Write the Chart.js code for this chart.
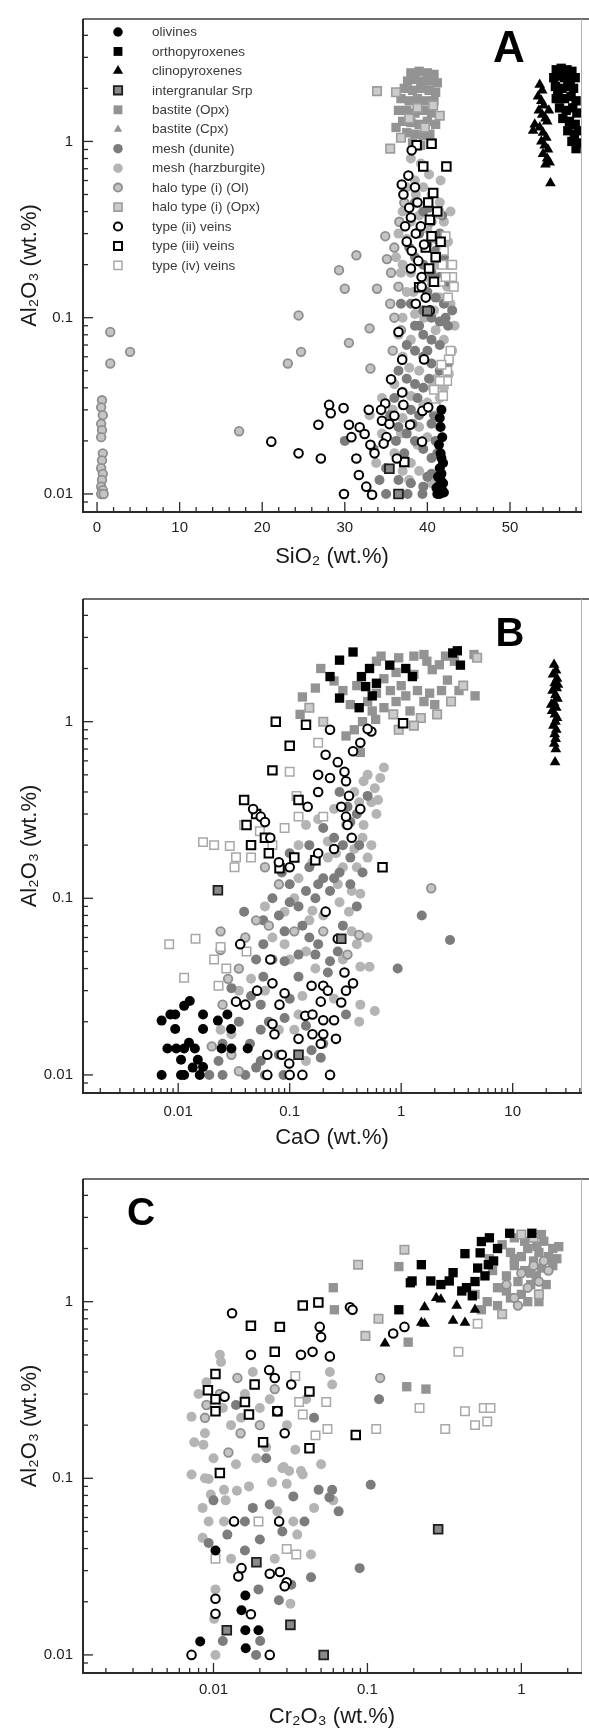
<!DOCTYPE html>
<html><head><meta charset="utf-8">
<script src="https://cdn.jsdelivr.net/npm/chart.js@4.4.1/dist/chart.umd.min.js"></script>
<style>
html,body{margin:0;padding:0;background:#fff;}
#wrap{position:relative;width:589px;height:1735px;overflow:hidden;}
canvas{position:absolute;left:0;}
</style></head><body>
<div id="wrap">
<canvas id="cA" width="589" height="580" style="top:0px;width:589px;height:580px"></canvas>
<canvas id="cB" width="589" height="580" style="top:580px;width:589px;height:580px"></canvas>
<canvas id="cC" width="589" height="575" style="top:1160px;width:589px;height:575px"></canvas>
</div>
<script>
// ---------------- series names (legend order) ----------------
const LABELS = ['olivines','orthopyroxenes','clinopyroxenes','intergranular Srp','bastite (Opx)','bastite (Cpx)','mesh (dunite)','mesh (harzburgite)','halo type (i) (Ol)','halo type (i) (Opx)','type (ii) veins','type (iii) veins','type (iv) veins'];

// ---------------- tick labels ----------------
const Y_TICKS = [0.01, 0.1, 1];
const A_X_TICKS = [0, 10, 20, 30, 40, 50];
const B_X_TICKS = [0.01, 0.1, 1, 10];
const C_X_TICKS = [0.01, 0.1, 1];
const PANEL_LETTERS = ['A', 'B', 'C'];
const X_TITLES = ['SiO\u2082 (wt.%)', 'CaO (wt.%)', 'Cr\u2082O\u2083 (wt.%)'];
const Y_TITLE = 'Al\u2082O\u2083 (wt.%)';

// ================= PANEL A : SiO2 vs Al2O3 =================
const A_olivines = [[41.5,0.010],[41.2,0.010],[41.8,0.0105],[41.4,0.011],[41.9,0.0115],[41.6,0.012],[41.3,0.0125],[41.7,0.013],[41.5,0.014],[41.9,0.015],[41.6,0.017],[41.4,0.019],[41.8,0.021],[41.6,0.024],[41.5,0.027],[41.7,0.030],[41.3,0.011],[42.0,0.0102],[41.1,0.0108],[41.7,0.016]];
const A_opx = [[55.6,2.55],[56.2,2.6],[56.9,2.55],[57.5,2.5],[55.3,2.3],[56.0,2.35],[56.6,2.3],[57.3,2.25],[57.9,2.3],[55.5,2.05],[56.3,2.0],[57.0,2.05],[57.7,2.0],[55.8,1.8],[56.6,1.75],[57.4,1.8],[58.0,1.7],[56.0,1.55],[56.8,1.5],[57.6,1.55],[58.1,1.45],[56.4,1.35],[57.2,1.3],[57.9,1.25],[57.0,1.15],[57.8,1.1],[58.3,1.15],[57.5,1.0],[58.2,0.98],[58.0,0.91],[55.6,1.75],[55.8,1.9]];
const A_cpx = [[53.6,2.1],[53.9,1.95],[53.4,1.8],[53.8,1.7],[54.1,1.6],[53.5,1.5],[53.9,1.42],[54.3,1.35],[53.0,1.25],[52.8,1.15],[53.6,1.2],[54.0,1.12],[54.4,1.05],[53.8,1.0],[54.2,0.95],[54.6,0.9],[54.0,0.85],[54.5,0.8],[54.8,0.76],[54.3,0.74],[54.9,0.58],[54.5,1.3],[54.7,1.5]];
const A_intergranular = [[40.0,0.109],[35.4,0.0139],[36.5,0.010]];
const A_bastiteOpx = [[38.0,2.45],[39.0,2.5],[40.0,2.45],[40.8,2.4],[37.6,2.2],[38.5,2.25],[39.5,2.2],[40.5,2.2],[41.2,2.15],[37.2,2.0],[38.2,1.95],[39.2,2.0],[40.2,1.95],[41.0,1.9],[36.8,1.75],[37.8,1.7],[38.8,1.75],[39.8,1.7],[40.8,1.7],[36.5,1.5],[37.5,1.5],[38.5,1.45],[39.5,1.5],[40.5,1.45],[37.0,1.3],[38.0,1.28],[39.0,1.25],[40.0,1.3],[41.0,1.25],[37.5,1.12],[38.5,1.1],[39.5,1.08],[40.3,1.1],[36.2,1.2],[38.2,0.98],[39.2,0.95],[40.6,0.98]];
const A_bastiteCpx = [];
const A_meshDunite = [[38.5,0.45],[39.5,0.4],[40.5,0.35],[41.5,0.3],[39.0,0.3],[40.0,0.26],[41.0,0.24],[42.0,0.22],[38.5,0.22],[39.5,0.2],[40.5,0.18],[41.5,0.17],[42.5,0.16],[39.0,0.15],[40.0,0.14],[41.0,0.13],[42.0,0.12],[38.0,0.12],[39.5,0.11],[40.5,0.1],[41.5,0.095],[42.5,0.09],[38.5,0.09],[39.5,0.08],[40.5,0.075],[41.5,0.07],[37.5,0.07],[38.5,0.065],[39.5,0.06],[40.5,0.055],[36.5,0.05],[37.5,0.045],[38.5,0.042],[39.5,0.04],[36.0,0.035],[37.0,0.032],[38.0,0.03],[39.0,0.028],[40.5,0.025],[35.5,0.028],[36.5,0.024],[37.5,0.022],[38.5,0.02],[39.5,0.018],[40.5,0.016],[30.0,0.02],[33.5,0.018],[35.0,0.014],[36.5,0.012],[38.0,0.0115],[39.5,0.011],[40.5,0.013],[41.0,0.02],[41.2,0.017],[40.8,0.028],[35.0,0.010],[39.4,0.010],[37.8,0.25],[40.2,0.42],[41.8,0.38],[42.6,0.2],[36.8,0.12],[39.0,0.09],[42.2,0.1],[43.0,0.11],[40.0,0.065],[42.5,0.055],[37.0,0.038],[41.5,0.05],[38.8,0.035],[40.2,0.045],[36.2,0.02],[38.2,0.025],[37.2,0.017],[34.2,0.012],[37.6,0.010],[40.0,0.0125]];
const A_meshHarz = [[37.5,0.55],[38.5,0.6],[39.5,0.55],[40.5,0.5],[41.5,0.45],[37.0,0.4],[38.0,0.35],[40.0,0.32],[42.0,0.35],[37.5,0.28],[41.0,0.28],[42.5,0.27],[37.0,0.2],[38.0,0.18],[41.0,0.2],[43.0,0.2],[37.5,0.14],[41.5,0.13],[42.8,0.12],[37.0,0.1],[38.5,0.105],[41.0,0.085],[42.0,0.075],[43.0,0.065],[36.5,0.08],[38.0,0.075],[37.0,0.06],[39.0,0.05],[41.0,0.045],[42.0,0.04],[36.0,0.042],[38.0,0.036],[40.0,0.033],[41.5,0.035],[37.0,0.027],[39.0,0.024],[40.0,0.021],[41.5,0.024],[34.5,0.022],[36.0,0.017],[38.0,0.015],[37.0,0.0135],[39.0,0.0135],[40.5,0.0115],[33.0,0.028],[34.5,0.035],[36.8,0.18],[39.0,0.38],[40.2,0.65],[38.0,0.8],[39.2,0.75],[36.5,0.3],[38.6,0.5],[41.6,0.6],[42.8,0.4],[36.2,0.22],[42.4,0.15],[39.8,0.17],[38.3,0.14],[40.8,0.11],[43.3,0.09],[39.6,0.1],[37.8,0.052],[40.6,0.04],[42.6,0.048],[39.5,0.032],[36.8,0.022],[38.8,0.019],[35.8,0.03],[33.8,0.015],[37.8,0.012]];
const A_haloOl = [[0.6,0.034],[0.5,0.031],[0.7,0.028],[0.5,0.025],[0.6,0.023],[0.5,0.021],[0.7,0.017],[0.6,0.0155],[0.5,0.014],[0.7,0.013],[0.6,0.012],[0.5,0.011],[0.7,0.0105],[0.5,0.010],[0.8,0.010],[1.6,0.083],[1.6,0.055],[4.0,0.064],[17.2,0.0227],[24.4,0.103],[24.7,0.064],[23.1,0.055],[30.5,0.072],[30.0,0.146],[33.0,0.087],[33.1,0.0515],[33.9,0.146],[31.4,0.226],[29.3,0.186],[35.1,0.215],[34.9,0.29],[35.5,0.12],[36.0,0.1],[36.8,0.085],[35.8,0.065],[36.5,0.15],[36.0,0.25],[36.6,0.35],[37.2,0.45],[35.6,0.18]];
const A_haloOpx = [[33.9,1.93],[35.5,0.91],[36.2,1.9],[38.8,1.55],[40.7,1.6],[37.8,1.35],[39.7,1.2],[41.5,1.4],[36.8,1.05]];
const A_type2 = [[28.1,0.032],[28.3,0.0287],[29.85,0.0307],[26.8,0.0247],[30.5,0.0247],[21.1,0.0198],[24.4,0.017],[27.1,0.0159],[30.8,0.021],[31.8,0.0239],[32.9,0.030],[32.4,0.0219],[33.1,0.019],[33.6,0.017],[31.4,0.0159],[31.7,0.0128],[32.6,0.011],[33.3,0.0099],[29.9,0.010],[34.5,0.026],[34.9,0.0326],[35.6,0.0447],[36.95,0.0376],[37.1,0.032],[36.0,0.0278],[35.4,0.0249],[35.05,0.021],[34.7,0.0193],[36.3,0.0159],[37.9,0.0247],[39.35,0.0198],[39.4,0.0296],[40.1,0.031],[36.95,0.0578],[36.5,0.083],[39.6,0.058],[34.4,0.030],[38.1,0.89],[36.9,0.57],[37.1,0.50],[37.7,0.64],[38.0,0.37],[37.5,0.27],[38.1,0.24],[38.6,0.30],[38.9,0.21],[39.3,0.17],[39.3,0.15],[38.5,0.55],[38.8,0.45],[37.8,0.42],[39.2,0.33],[37.3,0.33],[39.6,0.26],[38.0,0.19],[39.8,0.13],[38.6,0.12],[40.3,0.11]];
const A_type3 = [[38.7,0.95],[40.5,0.97],[39.5,0.72],[42.3,0.72],[40.7,0.51],[40.1,0.45],[40.3,0.36],[40.5,0.29],[41.0,0.22],[40.2,0.19],[40.8,0.16],[39.8,0.25],[41.2,0.4],[39.0,0.149],[37.2,0.0152],[41.6,0.27]];
const A_type4 = [[41.4,0.39],[42.2,0.29],[42.0,0.24],[43.0,0.2],[41.8,0.2],[43.0,0.17],[41.6,0.16],[40.6,0.16],[42.2,0.17],[42.6,0.058],[42.4,0.0437],[41.5,0.0437],[41.9,0.036],[40.8,0.039],[42.4,0.05],[41.7,0.054],[41.0,0.031],[42.8,0.065],[43.2,0.15],[42.5,0.13]];

// ================= PANEL B : CaO vs Al2O3 =================
const B_olivines = [[0.0071,0.0203],[0.0094,0.022],[0.0113,0.0246],[0.0127,0.0262],[0.0094,0.0182],[0.0167,0.022],[0.0167,0.0182],[0.008,0.0141],[0.0096,0.0141],[0.0113,0.0141],[0.0141,0.0141],[0.0106,0.0122],[0.015,0.0122],[0.0167,0.0111],[0.0071,0.010],[0.0106,0.010],[0.0113,0.010],[0.0156,0.010],[0.0227,0.0203],[0.0276,0.022],[0.0298,0.0182],[0.0245,0.0141],[0.030,0.0141],[0.042,0.0141],[0.0085,0.022],[0.0135,0.011],[0.0125,0.0152]];
const B_opx = [[0.28,2.23],[0.37,2.48],[3.19,2.52],[1.26,1.8],[0.44,1.8],[0.48,1.58],[0.28,1.36],[3.4,2.09],[0.79,2.09],[0.23,1.8],[0.55,1.4],[0.42,1.2],[2.9,2.45],[0.6,1.65],[1.1,2.0],[0.52,2.0]];
const B_cpx = [[23.5,2.1],[24.5,1.95],[23.0,1.85],[25.0,1.75],[23.8,1.65],[24.8,1.55],[22.8,1.5],[24.2,1.42],[25.2,1.35],[23.5,1.28],[24.6,1.2],[22.6,1.15],[23.9,1.1],[25.0,1.05],[24.2,1.0],[23.2,0.95],[24.6,0.9],[23.8,0.85],[24.3,0.8],[23.6,0.75],[24.4,0.7],[24.0,0.59],[22.2,1.25],[25.5,1.62]];
const B_intergranular = [[0.0227,0.111],[0.12,0.013],[0.29,0.059]];
const B_bastiteOpx = [[0.13,1.38],[0.124,1.1],[0.19,2.0],[0.66,2.35],[1.6,2.4],[4.6,1.4],[3.3,1.5],[2.6,1.72],[1.9,1.97],[3.0,2.2],[4.5,2.4],[0.32,0.83],[0.43,0.67],[0.59,1.03],[0.3,1.5],[0.35,1.25],[0.4,1.6],[0.5,1.3],[0.6,1.45],[0.7,1.2],[0.8,1.5],[0.9,1.3],[1.0,1.6],[1.1,1.4],[1.2,1.15],[1.4,1.5],[1.6,1.3],[1.8,1.45],[2.0,1.25],[2.3,1.5],[1.3,1.85],[0.9,1.9],[0.7,1.75],[0.25,1.7],[0.17,1.55],[0.55,1.15],[0.45,1.0],[0.38,0.9],[2.2,2.1],[1.7,2.2],[0.6,2.2],[0.95,2.3],[1.3,2.35],[2.5,2.35]];
const B_bastiteCpx = [];
const B_meshDunite = [[1.53,0.08],[2.74,0.058],[0.93,0.04],[0.039,0.084],[0.058,0.075],[0.12,0.09],[0.17,0.1],[0.23,0.11],[0.058,0.055],[0.09,0.044],[0.12,0.048],[0.18,0.055],[0.23,0.044],[0.12,0.036],[0.058,0.036],[0.03,0.031],[0.055,0.025],[0.09,0.021],[0.055,0.018],[0.044,0.015],[0.055,0.012],[0.04,0.010],[0.023,0.012],[0.019,0.010],[0.025,0.010],[0.19,0.0125],[0.157,0.0138],[0.2,0.015],[0.06,0.010],[0.088,0.010],[0.15,0.06],[0.3,0.07],[0.25,0.13],[0.15,0.15],[0.3,0.2],[0.2,0.25],[0.4,0.3],[0.28,0.4],[0.1,0.12],[0.07,0.1],[0.35,0.12],[0.4,0.09],[0.45,0.14],[0.15,0.2],[0.09,0.065],[0.27,0.05],[0.035,0.02],[0.05,0.045],[0.025,0.015],[0.32,0.022],[0.08,0.08],[0.1,0.095],[0.14,0.11],[0.2,0.13],[0.28,0.14],[0.35,0.17],[0.25,0.22],[0.35,0.27],[0.42,0.2],[0.18,0.12],[0.13,0.07],[0.07,0.045],[0.045,0.028],[0.065,0.02],[0.1,0.027],[0.14,0.019],[0.08,0.013],[0.05,0.011],[0.17,0.048],[0.22,0.038],[0.5,0.38],[0.33,0.33],[0.1,0.18],[0.085,0.14]];
const B_meshHarz = [[0.09,0.084],[0.36,0.11],[0.43,0.106],[0.34,0.084],[0.36,0.065],[0.43,0.025],[0.58,0.023],[0.52,0.041],[0.43,0.041],[0.42,0.02],[0.46,0.46],[0.54,0.35],[0.54,0.2],[0.46,0.26],[0.5,0.17],[0.45,0.22],[0.38,0.4],[0.3,0.15],[0.22,0.17],[0.12,0.2],[0.18,0.28],[0.25,0.32],[0.14,0.26],[0.5,0.5],[0.1,0.045],[0.15,0.075],[0.2,0.08],[0.28,0.095],[0.07,0.06],[0.045,0.035],[0.13,0.028],[0.25,0.027],[0.3,0.045],[0.4,0.055],[0.17,0.04],[0.11,0.018],[0.14,0.012],[0.5,0.06],[0.6,0.3],[0.65,0.48],[0.7,0.55],[0.06,0.09],[0.12,0.13],[0.16,0.16],[0.26,0.18],[0.38,0.19],[0.32,0.26],[0.42,0.35],[0.58,0.42],[0.22,0.21],[0.11,0.1],[0.16,0.085],[0.09,0.055],[0.14,0.05],[0.035,0.03],[0.06,0.03],[0.08,0.018],[0.12,0.022],[0.03,0.017],[0.024,0.018],[0.27,0.12],[0.4,0.15],[0.62,0.36]];
const B_haloOl = [[1.86,0.114],[0.024,0.065],[0.024,0.051],[0.028,0.035],[0.035,0.04],[0.06,0.15],[0.08,0.12],[0.05,0.075],[0.04,0.06],[0.025,0.025],[0.02,0.0145],[0.03,0.013],[0.035,0.0105],[0.065,0.07],[0.11,0.065],[0.2,0.065],[0.33,0.048],[0.42,0.062]];
const B_haloOpx = [[0.15,1.2],[0.2,1.0],[0.85,1.1],[1.5,1.05],[2.1,1.1],[2.8,1.3],[3.6,1.6],[4.8,2.3],[0.95,0.9],[1.3,0.95]];
const B_type2 = [[0.23,0.9],[0.54,0.88],[0.5,0.91],[0.43,0.76],[0.37,0.68],[0.21,0.65],[0.27,0.59],[0.31,0.52],[0.18,0.5],[0.23,0.48],[0.32,0.46],[0.34,0.38],[0.29,0.33],[0.43,0.32],[0.32,0.29],[0.33,0.26],[0.36,0.22],[0.18,0.4],[0.145,0.33],[0.047,0.32],[0.055,0.29],[0.06,0.27],[0.067,0.22],[0.25,0.19],[0.18,0.18],[0.08,0.16],[0.1,0.15],[0.21,0.084],[0.067,0.045],[0.036,0.055],[0.27,0.059],[0.31,0.038],[0.37,0.033],[0.32,0.03],[0.29,0.0257],[0.07,0.033],[0.09,0.029],[0.157,0.032],[0.2,0.032],[0.22,0.03],[0.19,0.026],[0.138,0.0216],[0.16,0.022],[0.2,0.0204],[0.25,0.0204],[0.033,0.026],[0.04,0.025],[0.051,0.03],[0.081,0.025],[0.07,0.0194],[0.073,0.017],[0.12,0.016],[0.16,0.017],[0.2,0.017],[0.26,0.016],[0.19,0.015],[0.063,0.013],[0.085,0.013],[0.099,0.0116],[0.063,0.010],[0.1,0.010],[0.13,0.010],[0.23,0.010]];
const B_type3 = [[0.075,1.0],[0.14,0.96],[0.1,0.73],[0.07,0.53],[0.12,0.36],[1.04,0.98],[0.68,0.15],[0.039,0.36],[0.041,0.26],[0.17,0.164],[0.081,0.148],[0.05,0.3],[0.06,0.22],[0.045,0.2],[0.065,0.18],[0.11,0.17]];
const B_type4 = [[0.0167,0.208],[0.021,0.2],[0.029,0.198],[0.033,0.171],[0.032,0.15],[0.039,0.26],[0.054,0.24],[0.09,0.25],[0.12,0.29],[0.115,0.38],[0.1,0.52],[0.18,0.76],[0.2,0.29],[0.0083,0.055],[0.0143,0.059],[0.0113,0.0355],[0.021,0.045],[0.027,0.04],[0.041,0.05],[0.024,0.053],[0.023,0.032],[0.07,0.2],[0.045,0.17]];

// ================= PANEL C : Cr2O3 vs Al2O3 =================
const C_olivines = [[0.0103,0.039],[0.0161,0.0217],[0.0152,0.0179],[0.0161,0.0138],[0.0196,0.0138],[0.0162,0.0109],[0.0082,0.0119]];
const C_opx = [[1.17,2.44],[0.84,2.44],[0.55,2.19],[0.54,1.89],[0.43,1.87],[0.61,1.62],[0.66,1.7],[0.36,1.46],[0.258,1.31],[0.224,1.62],[0.195,1.31],[0.19,1.28],[0.16,0.9],[0.44,1.2],[0.48,1.08],[0.41,1.15],[0.5,1.3],[0.34,1.31],[0.7,2.0],[0.62,2.3],[0.52,1.55],[0.3,1.25],[0.58,1.4]];
const C_cpx = [[0.13,0.58],[0.224,0.76],[0.235,0.75],[0.36,0.78],[0.43,0.76],[0.235,0.93],[0.28,1.05],[0.3,1.03],[0.38,0.95],[0.5,0.9]];
const C_intergranular = [[0.019,0.0335],[0.0316,0.0148],[0.0122,0.0138],[0.052,0.010],[0.288,0.0515]];
const C_bastiteOpx = [[0.16,1.58],[0.06,1.2],[0.061,0.9],[0.184,0.59],[0.18,0.33],[0.24,0.32],[1.26,2.06],[0.6,1.0],[0.7,1.2],[0.8,1.4],[0.9,1.6],[1.0,1.8],[1.1,2.0],[0.75,2.1],[0.85,1.9],[0.65,1.5],[0.95,1.3],[1.05,1.5],[1.2,1.7],[1.3,1.9],[1.4,2.2],[0.9,2.3],[1.0,1.1],[1.15,1.25],[0.7,0.95],[0.8,1.15],[1.1,1.0],[1.25,1.4],[1.5,1.8],[1.6,2.0],[1.75,2.05],[0.55,0.9],[0.5,1.1],[0.62,1.75],[1.35,1.55],[0.85,1.05],[1.6,1.6],[1.3,1.0],[1.45,1.25],[1.7,1.75],[0.9,1.75],[1.15,1.45],[1.05,2.2],[1.35,2.4]];
const C_bastiteCpx = [];
const C_meshDunite = [[0.105,0.092],[0.089,0.031],[0.119,0.28],[0.0232,0.071],[0.033,0.079],[0.0482,0.086],[0.0566,0.078],[0.059,0.086],[0.016,0.057],[0.039,0.057],[0.02,0.045],[0.016,0.039],[0.043,0.0275],[0.0196,0.0235],[0.0266,0.0204],[0.0115,0.012],[0.0201,0.012],[0.0189,0.010],[0.0093,0.043],[0.0123,0.048],[0.010,0.075],[0.018,0.068],[0.028,0.05],[0.032,0.025],[0.022,0.13],[0.014,0.26],[0.045,0.22],[0.065,0.065]];
const C_meshHarz = [[0.0072,0.105],[0.0093,0.099],[0.0096,0.081],[0.0117,0.086],[0.0142,0.085],[0.019,0.13],[0.028,0.114],[0.0299,0.093],[0.038,0.105],[0.0093,0.057],[0.0117,0.057],[0.033,0.057],[0.0085,0.046],[0.043,0.037],[0.0103,0.0235],[0.0316,0.0195],[0.0101,0.016],[0.0103,0.010],[0.059,0.34],[0.057,0.4],[0.0072,0.223],[0.0088,0.18],[0.0086,0.155],[0.0151,0.22],[0.0286,0.116],[0.031,0.11],[0.037,0.11],[0.034,0.145],[0.0232,0.28],[0.0112,0.455],[0.0088,0.10],[0.008,0.3],[0.009,0.35],[0.0115,0.25],[0.013,0.2],[0.016,0.3],[0.018,0.4],[0.02,0.25],[0.022,0.15],[0.014,0.12],[0.010,0.13],[0.0075,0.16],[0.012,0.075],[0.017,0.09],[0.024,0.095],[0.026,0.065],[0.045,0.068],[0.05,0.12],[0.06,0.075],[0.035,0.048],[0.025,0.035],[0.0085,0.068],[0.013,0.035],[0.03,0.2],[0.04,0.28],[0.011,0.5]];
const C_haloOl = [[0.121,0.37],[0.0143,0.37],[0.0088,0.22],[0.011,0.3],[0.015,0.18],[0.02,0.2],[0.0125,0.14],[0.025,0.32],[0.009,0.26],[0.9,1.05],[1.1,1.2],[1.3,1.3],[1.0,1.45],[1.2,1.6],[1.4,1.7],[0.8,1.25],[0.95,0.95],[1.5,1.5]];
const C_haloOpx = [[0.174,1.97],[0.087,1.62],[0.097,0.64],[0.118,0.8],[1.0,2.4],[1.2,2.3],[0.75,0.85],[1.3,1.1]];
const C_type2 = [[0.0132,0.86],[0.049,0.72],[0.05,0.63],[0.0175,0.5],[0.037,0.5],[0.044,0.52],[0.057,0.49],[0.023,0.41],[0.025,0.37],[0.032,0.34],[0.0118,0.29],[0.026,0.24],[0.029,0.18],[0.077,0.93],[0.08,0.9],[0.147,0.66],[0.174,0.72],[0.0072,0.010],[0.0232,0.010],[0.0103,0.0208],[0.0103,0.0171],[0.0175,0.017],[0.0136,0.057],[0.0267,0.057],[0.0152,0.031],[0.0145,0.0278],[0.0232,0.0288],[0.027,0.0295],[0.0299,0.0258],[0.029,0.0245]];
const C_type3 = [[0.038,0.95],[0.048,0.99],[0.0175,0.73],[0.027,0.72],[0.025,0.52],[0.0103,0.39],[0.0092,0.315],[0.0103,0.28],[0.0103,0.24],[0.016,0.27],[0.017,0.23],[0.026,0.24],[0.0185,0.34],[0.042,0.31],[0.021,0.16],[0.042,0.148],[0.084,0.176],[0.011,0.107]];
const C_type4 = [[0.39,0.52],[0.218,0.25],[0.43,0.24],[0.57,0.25],[0.63,0.25],[0.6,0.21],[0.5,0.2],[0.32,0.19],[0.114,0.19],[0.52,0.75],[0.054,0.27],[0.055,0.19],[0.038,0.23],[0.034,0.38],[0.036,0.27],[0.046,0.175],[0.0299,0.0398],[0.0196,0.057],[0.0103,0.035],[0.0345,0.037]];

const PANEL_DATA = [
  [A_olivines,A_opx,A_cpx,A_intergranular,A_bastiteOpx,A_bastiteCpx,A_meshDunite,A_meshHarz,A_haloOl,A_haloOpx,A_type2,A_type3,A_type4],
  [B_olivines,B_opx,B_cpx,B_intergranular,B_bastiteOpx,B_bastiteCpx,B_meshDunite,B_meshHarz,B_haloOl,B_haloOpx,B_type2,B_type3,B_type4],
  [C_olivines,C_opx,C_cpx,C_intergranular,C_bastiteOpx,C_bastiteCpx,C_meshDunite,C_meshHarz,C_haloOl,C_haloOpx,C_type2,C_type3,C_type4]
];

// ---------------- marker styles ----------------
const STYLES = [
  {ps:'circle',   r:5.0, bg:'#000000', bc:'#000000', bw:0,   order:1},
  {ps:'rect',     r:6.6, bg:'#000000', bc:'#000000', bw:0,   order:1},
  {ps:'triangle', r:6.2, bg:'#000000', bc:'#000000', bw:0,   order:1},
  {ps:'rect',     r:6.2, bg:'#8a8a8a', bc:'#1e1e1e', bw:1.8, order:2},
  {ps:'rect',     r:6.6, bg:'#939393', bc:'#939393', bw:0,   order:6},
  {ps:'triangle', r:5.0, bg:'#939393', bc:'#939393', bw:0,   order:6},
  {ps:'circle',   r:5.0, bg:'#7c7c7c', bc:'#7c7c7c', bw:0,   order:6},
  {ps:'circle',   r:5.0, bg:'#b4b4b4', bc:'#b4b4b4', bw:0,   order:6},
  {ps:'circle',   r:4.3, bg:'#c4c4c4', bc:'#8e8e8e', bw:1.8, order:5},
  {ps:'rect',     r:6.0, bg:'#cbcbcb', bc:'#9c9c9c', bw:1.6, order:5},
  {ps:'circle',   r:4.3, bg:'#ffffff', bc:'#000000', bw:2,   order:2},
  {ps:'rect',     r:6.0, bg:'#ffffff', bc:'#000000', bw:2,   order:2},
  {ps:'rect',     r:6.0, bg:'#ffffff', bc:'#a8a8a8', bw:1.5, order:4}
];

const FONT = '"Liberation Sans", Arial, Helvetica, sans-serif';

function makeDatasets(panel) {
  return LABELS.map((lab, i) => {
    const s = STYLES[i];
    return {
      label: lab,
      data: PANEL_DATA[panel][i].map(p => ({x: p[0], y: p[1]})),
      pointStyle: s.ps, pointRadius: s.r, pointHoverRadius: s.r,
      backgroundColor: s.bg, borderColor: s.bc, borderWidth: s.bw,
      order: s.order, showLine: false
    };
  });
}

function logTickValues(min, max) {
  const out = [];
  for (let d = Math.floor(Math.log10(min)); d <= Math.ceil(Math.log10(max)); d++) {
    for (let m = 1; m <= 9; m++) {
      const v = m * Math.pow(10, d);
      if (v >= min && v <= max) out.push({v, major: m === 1});
    }
  }
  return out;
}

const frameTicks = {
  id: 'frameTicks',
  afterDatasetsDraw(chart, args, opts) {
    const {ctx, chartArea: a} = chart;
    const xs = chart.scales.x, ys = chart.scales.y;
    ctx.save();
    ctx.strokeStyle = '#2a2a2a';
    ctx.lineWidth = 1.3;
    const xt = opts.xLog ? logTickValues(xs.min, xs.max) : opts.xLinTicks;
    xt.forEach(t => {
      const px = xs.getPixelForValue(t.v);
      if (px < a.left + 1 || px > a.right - 1) return;
      ctx.beginPath(); ctx.moveTo(px, a.bottom); ctx.lineTo(px, a.bottom - (t.major ? 10 : 5)); ctx.stroke();
    });
    logTickValues(ys.min, ys.max).forEach(t => {
      const py = ys.getPixelForValue(t.v);
      if (py < a.top + 1 || py > a.bottom - 1) return;
      ctx.beginPath(); ctx.moveTo(a.left, py); ctx.lineTo(a.left + (t.major ? 10 : 5), py); ctx.stroke();
    });
    // frame
    ctx.lineWidth = 2.2; ctx.strokeStyle = '#6e6e6e';
    ctx.beginPath(); ctx.moveTo(a.left, a.top); ctx.lineTo(chart.width, a.top); ctx.stroke();
    ctx.lineWidth = 1; ctx.strokeStyle = '#b0b0b0';
    ctx.beginPath(); ctx.moveTo(a.right + 0.5, a.top); ctx.lineTo(a.right + 0.5, a.bottom); ctx.stroke();
    ctx.lineWidth = 2; ctx.strokeStyle = '#2a2a2a';
    ctx.beginPath(); ctx.moveTo(a.left, a.top); ctx.lineTo(a.left, a.bottom); ctx.lineTo(a.right + 1, a.bottom); ctx.stroke();
    // panel letter
    ctx.fillStyle = '#000';
    ctx.font = 'bold ' + opts.letterSize + 'px ' + FONT;
    ctx.textAlign = 'center'; ctx.textBaseline = 'middle';
    ctx.fillText(opts.letter, opts.letterX, opts.letterY);
    // legend
    if (opts.legend) {
      LABELS.forEach((lab, i) => {
        const s = STYLES[i];
        const y = 32 + i * 19.45;
        ctx.fillStyle = s.bg; ctx.strokeStyle = s.bc; ctx.lineWidth = s.bw;
        Chart.helpers.drawPoint(ctx, {pointStyle: s.ps, radius: s.r * 0.95, borderWidth: s.bw, rotation: 0}, 118, y);
        ctx.fillStyle = '#3a3a3a';
        ctx.font = '13.5px ' + FONT;
        ctx.textAlign = 'left'; ctx.textBaseline = 'middle';
        ctx.fillText(lab, 152, y + 0.5);
      });
    }
    ctx.restore();
  }
};

function makeChart(id, panel, cfg) {
  const H = cfg.H;
  new Chart(document.getElementById(id), {
    type: 'scatter',
    data: {datasets: makeDatasets(panel)},
    options: {
      responsive: false, animation: false, events: [],
      layout: {padding: {top: cfg.top, right: 6, left: 0, bottom: 0}},
      plugins: {
        legend: {display: false}, tooltip: {enabled: false},
        frameTicks: cfg.plug
      },
      scales: {
        x: {
          type: cfg.xType, min: cfg.xMin, max: cfg.xMax,
          afterBuildTicks: s => { s.ticks = cfg.xTicks.map(v => ({value: v})); },
          afterFit: s => { s.height = H - cfg.bottom; },
          grid: {display: false, drawTicks: false}, border: {display: false},
          ticks: {autoSkip: false, maxRotation: 0, padding: cfg.xPad, color: '#222',
                  font: {family: FONT, size: 15}, callback: v => String(v)},
          title: {display: true, text: X_TITLES[panel], color: '#1a1a1a',
                  font: {family: FONT, size: 22}, padding: {top: 0, bottom: cfg.xTitlePad}}
        },
        y: {
          type: 'logarithmic', min: 0.0079, max: 4.95,
          afterBuildTicks: s => { s.ticks = Y_TICKS.map(v => ({value: v})); },
          afterFit: s => { s.width = 83; },
          grid: {display: false, drawTicks: false}, border: {display: false},
          ticks: {autoSkip: false, padding: 10, color: '#222',
                  font: {family: FONT, size: 15}, callback: v => String(v)},
          title: {display: true, text: Y_TITLE, color: '#1a1a1a',
                  font: {family: FONT, size: 22}, padding: {top: 17, bottom: 0}}
        }
      }
    },
    plugins: [frameTicks]
  });
}

const A_MINOR = [];
for (let v = 0; v <= 58; v += 2) A_MINOR.push({v, major: v % 10 === 0});

makeChart('cA', 0, {H: 580, top: 15, bottom: 512, xType: 'linear', xMin: -1.7, xMax: 58.6, xTicks: A_X_TICKS, xPad: 7, xTitlePad: 10,
  plug: {xLog: false, xLinTicks: A_MINOR, letter: PANEL_LETTERS[0], letterSize: 44, letterX: 509, letterY: 50, legend: true}});
makeChart('cB', 1, {H: 580, top: 17, bottom: 513, xType: 'logarithmic', xMin: 0.0014, xMax: 41, xTicks: B_X_TICKS, xPad: 10, xTitlePad: 9,
  plug: {xLog: true, letter: PANEL_LETTERS[1], letterSize: 40, letterX: 510, letterY: 55, legend: false}});
makeChart('cC', 2, {H: 575, top: 15, bottom: 513, xType: 'logarithmic', xMin: 0.00142, xMax: 2.44, xTicks: C_X_TICKS, xPad: 8, xTitlePad: 5,
  plug: {xLog: true, letter: PANEL_LETTERS[2], letterSize: 39, letterX: 141, letterY: 54, legend: false}});
</script>
</body></html>
